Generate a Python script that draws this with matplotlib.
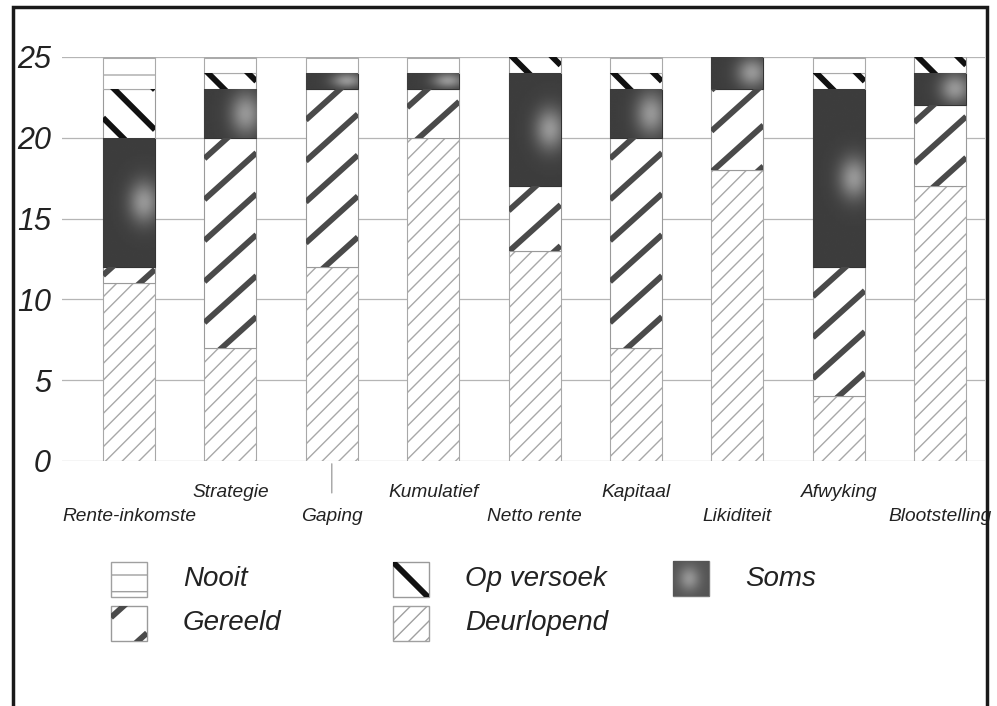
import matplotlib
matplotlib.use("Agg")
import matplotlib.pyplot as plt
import numpy as np
from matplotlib.patches import Rectangle

# Data
categories = ["Rente-inkomste", "Strategie", "Gaping", "Kumulatief", "Netto rente",
              "Kapitaal", "Likiditeit", "Afwyking", "Blootstelling"]
deurlopend = [11, 7, 12, 20, 13, 7, 18, 4, 17]
gereeld = [1, 13, 11, 3, 4, 13, 5, 8, 5]
soms = [8, 3, 1, 1, 7, 3, 2, 11, 2]
op_versoek = [3, 1, 0, 0, 1, 1, 0, 1, 1]
nooit = [2, 1, 1, 1, 0, 1, 0, 1, 0]
y_ticks = [0, 5, 10, 15, 20, 25]

plt.rcParams['font.family'] = ['Liberation Sans', 'DejaVu Sans']
plt.rcParams['hatch.linewidth'] = 1.0

W, H = 997, 706
fig = plt.figure(figsize=(W / 100, H / 100), dpi=100)

# axes placed in pixel terms
ax_l, ax_r, ax_b, ax_t = 62, 985, 461, 57
ax = fig.add_axes([ax_l / W, 1 - ax_b / H, (ax_r - ax_l) / W, (ax_b - ax_t) / H])
x_step = 101.4
xlim = (-(129 - ax_l) / x_step, (ax_r - 129) / x_step)
sx = x_step
sy = (ax_b - ax_t) / 25.0


def stripes(a, patch, x0, y0, w, h, sx, sy, rise, gap, color, lw, phase=0.0):
    # thick diagonal stripes drawn in pixel space, clipped to the patch
    wp, hp = w * sx, h * sy
    cmin = min(0, -rise * wp) - gap
    cmax = max(hp, hp - rise * wp) + gap
    for c in np.arange(cmin + phase, cmax, gap):
        u = np.array([0.0, wp])
        v = c + rise * u
        ln, = a.plot(x0 + u / sx, y0 + v / sy, color=color, lw=lw,
                     solid_capstyle='butt', zorder=3)
        ln.set_clip_path(patch)


def blob(a, patch, x0, y0, w, h, cx, cy, ry, base=0.24, amp=0.35):
    # lighter spot in the dark "Soms" texture
    yy, xx = np.mgrid[0:1:80j, 0:1:30j]
    z = base + amp * np.exp(-(((xx - cx) / 0.3) ** 2 + ((yy - cy) / ry) ** 2))
    im = a.imshow(z, extent=(x0, x0 + w, y0, y0 + h), origin='lower', cmap='gray',
                  vmin=0, vmax=1, aspect='auto', zorder=2.5, interpolation='bilinear')
    im.set_clip_path(patch)


x = np.arange(len(categories))
bw = 52 / x_step
bottom = np.zeros(len(categories))

b_deur = ax.bar(x, deurlopend, bw, bottom=bottom, color='white', edgecolor='#a8a8a8',
                hatch='//', lw=0.8, zorder=2)
bottom += deurlopend

b_ger = ax.bar(x, gereeld, bw, bottom=bottom, color='white', edgecolor='#9a9a9a', lw=0.8, zorder=2)
for i, p in enumerate(b_ger):
    if gereeld[i] > 0:
        stripes(ax, p, x[i] - bw / 2, bottom[i], bw, gereeld[i], sx, sy, 0.9, 41, '#4a4a4a', 4.2,
                phase=(bottom[i] * sy) % 41)
bottom += gereeld

b_soms = ax.bar(x, soms, bw, bottom=bottom, color='#3c3c3c', edgecolor='#333333', lw=0.8, zorder=2)
for i, p in enumerate(b_soms):
    if soms[i] > 0:
        blob(ax, p, x[i] - bw / 2, bottom[i], bw, soms[i], 0.8, 0.5, min(0.45, 1.3 / soms[i]))
bottom += soms

b_op = ax.bar(x, op_versoek, bw, bottom=bottom, color='white', edgecolor='#9a9a9a', lw=0.8, zorder=2)
for i, p in enumerate(b_op):
    if op_versoek[i] > 0:
        stripes(ax, p, x[i] - bw / 2, bottom[i], bw, op_versoek[i], sx, sy, -1.0, 40, '#111111', 4.2,
                phase=20)
bottom += op_versoek

b_nooit = ax.bar(x, nooit, bw, bottom=bottom, color='white', edgecolor='#aaaaaa',
                 hatch='-', lw=0.8, zorder=2)

ax.set_xlim(*xlim)
ax.set_ylim(0, 25)
ax.set_yticks(y_ticks)
ax.set_yticklabels([str(t) for t in y_ticks], fontsize=22, style='italic', color='#222222')
ax.tick_params(axis='y', length=0, pad=8)
ax.set_xticks([])
ax.yaxis.grid(True, color='#b5b5b5', lw=0.9)
ax.set_axisbelow(True)
for s in ax.spines.values():
    s.set_visible(False)

# staggered category labels
for i, lab in enumerate(categories):
    off = -40 if i % 2 == 0 else -23
    ax.annotate(lab, (x[i], 0), xytext=(0, off), textcoords='offset points',
                ha='center', va='center', fontsize=13.8, style='italic', color='#222222',
                annotation_clip=False)

# small tick under "Gaping"
ax.annotate('', xy=(x[2], 0), xytext=(0, -25), textcoords='offset points',
            arrowprops=dict(arrowstyle='-', color='#999999', lw=0.9), annotation_clip=False)

# legend drawn in pixel coordinates
lax = fig.add_axes([0, 0, 1, 1], facecolor='none')
lax.set_xlim(0, W)
lax.set_ylim(0, H)
lax.axis('off')

leg_items = [
    ("Nooit", 111, 562, 'nooit'),
    ("Gereeld", 111, 606, 'gereeld'),
    ("Op versoek", 393, 562, 'op'),
    ("Deurlopend", 393, 606, 'deur'),
    ("Soms", 673, 561, 'soms'),
]
pw, ph = 36, 35
for lab, px, py, kind in leg_items:
    y0 = H - py - ph
    if kind == 'nooit':
        r = Rectangle((px, y0), pw, ph, fc='white', ec='#a0a0a0', hatch='-', lw=1.0)
        lax.add_patch(r)
    elif kind == 'deur':
        r = Rectangle((px, y0), pw, ph, fc='white', ec='#a0a0a0', hatch='//', lw=1.0)
        lax.add_patch(r)
    elif kind == 'gereeld':
        r = Rectangle((px, y0), pw, ph, fc='white', ec='#9a9a9a', lw=1.0)
        lax.add_patch(r)
        stripes(lax, r, px, y0, pw, ph, 1, 1, 0.9, 48, '#4a4a4a', 4.2, phase=8)
    elif kind == 'op':
        r = Rectangle((px, y0), pw, ph, fc='white', ec='#9a9a9a', lw=1.0)
        lax.add_patch(r)
        stripes(lax, r, px, y0, pw, ph, 1, 1, -1.0, 80, '#111111', 4.2, phase=35)
    else:
        r = Rectangle((px, y0), pw, ph, fc='#5a5a5a', ec='#777777', lw=1.0)
        lax.add_patch(r)
        blob(lax, r, px, y0, pw, ph, 0.45, 0.5, 0.35, base=0.33, amp=0.25)
    lax.text(px + 72, y0 + ph / 2, lab, fontsize=20, style='italic', color='#222222',
             ha='left', va='center')
lax.set_xlim(0, W)
lax.set_ylim(0, H)

# outer frame
fig.add_artist(Rectangle((13 / W, -0.05), (987 - 13) / W, 1 - 7 / H + 0.05,
                         transform=fig.transFigure, fill=False, lw=2.5, ec='#1a1a1a'))

fig.savefig("out.png", dpi=100)
